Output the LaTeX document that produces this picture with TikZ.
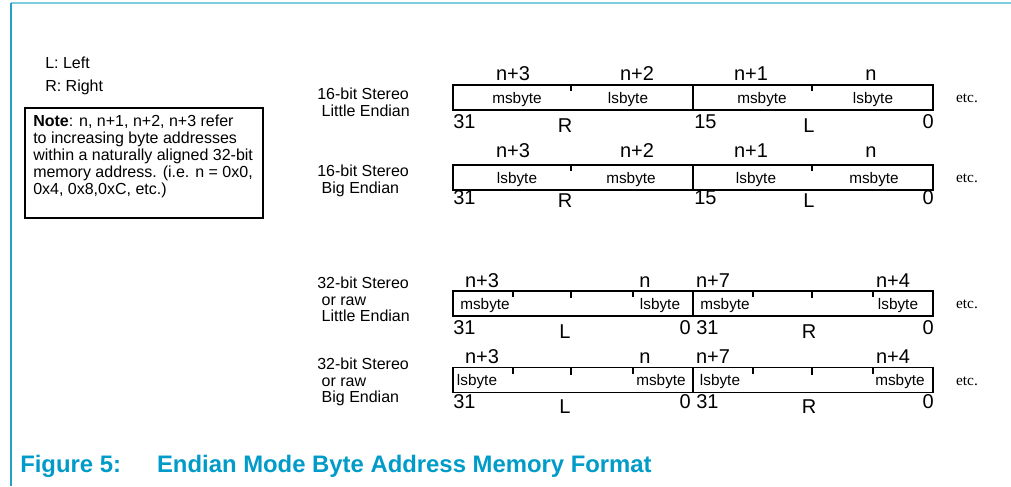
\documentclass[tikz,border=0pt]{standalone}
\usepackage{fontspec}
\setmainfont{Liberation Sans}
\newfontfamily\etcfont{Liberation Serif}
\definecolor{framecyan}{RGB}{125, 205, 222}
\definecolor{frameteal}{RGB}{40, 160, 195}
\definecolor{capblue}{RGB}{0, 155, 200}
\tikzset{
    halfword/.style={draw, rectangle, line width=0.9pt, minimum width=180pt, minimum height=18.75pt, inner sep=0pt},
    bytetick/.style={line width=0.9pt},
    addrlabel/.style={font=\fontsize{15}{18}\selectfont, inner sep=0pt, anchor=base},
    bitlabel/.style={addrlabel},
    bytelabel/.style={font=\fontsize{11.5}{14}\selectfont, inner sep=0pt, anchor=base},
    modelabel/.style={font=\fontsize{12}{12.2}\selectfont, align=left, inner sep=0pt, anchor=north west},
    etclabel/.style={font=\etcfont\fontsize{11.5}{13}\selectfont, inner sep=0pt, anchor=base},
    notebox/.style={draw, rectangle, line width=0.9pt, inner sep=0pt},
    figcaption/.style={font=\fontsize{17.9}{21}\selectfont\bfseries, text=capblue, inner sep=0pt, anchor=base west},
}
\begin{document}
\begin{tikzpicture}[x=0.75pt, y=-0.75pt]
                \useasboundingbox (0,0) rectangle (1011,486);
                % page frame
                \draw[framecyan, line width=1.7pt] (11,3) -- (1011,3);
                \draw[frameteal, line width=1pt] (11,3) -- (11,486);

                % legend and note
                \node[modelabel] (left) at (45,57) {L: Left};
                \node[modelabel] (right) at (45,80) {R: Right};
                \node[notebox, minimum width=178.5pt, minimum height=82.5pt] (note) at (144,163) {};
                \node[modelabel, font=\fontsize{12}{12.75}\selectfont] (notetext) at (33,115)
                      {\textbf{Note}: n, n+1, n+2, n+3 refer\\to increasing byte addresses\\within a naturally aligned 32-bit\\memory address. (i.e. n = 0x0,\\0x4, 0x8,0xC, etc.)};

                % 16-bit stereo, little endian
                \node[modelabel] (le16mode) at (317,88) {16-bit Stereo\\\ Little Endian};
                \node[halfword] (le16l) at (573,97.5) {};
                \node[halfword] (le16r) at (813,97.5) {};
                \draw[bytetick] (le16l.north) ++(-2,0) -- ++(0,7) (le16r.north) ++(-1,0) -- ++(0,7);
                \node[addrlabel] (le16a) at (513,80) {n+3};
                \node[addrlabel] (le16b) at (637,80) {n+2};
                \node[addrlabel] (le16c) at (751,80) {n+1};
                \node[addrlabel] (le16d) at (871,80) {n};
                \node[bytelabel] (le16ms) at (517,103) {msbyte};
                \node[bytelabel] (le16ls) at (628,103) {lsbyte};
                \node[bytelabel] (le16ms2) at (762,103) {msbyte};
                \node[bytelabel] (le16ls2) at (873,103) {lsbyte};
                \node[bitlabel, anchor=base west] (le16hi) at (453,128) {31};
                \node[bitlabel] (le16side) at (565,132) {R};
                \node[bitlabel, anchor=base west] (le16mid) at (694,128) {15};
                \node[bitlabel] (le16side2) at (809,132) {L};
                \node[bitlabel, anchor=base east] (le16lo) at (934,128) {0};
                \node[etclabel] (le16etc) at (967,102) {etc.};

                % 16-bit stereo, big endian
                \node[modelabel] (be16mode) at (317,165) {16-bit Stereo\\\ Big Endian};
                \node[halfword] (be16l) at (573,177.5) {};
                \node[halfword] (be16r) at (813,177.5) {};
                \draw[bytetick] (be16l.north) ++(-2,0) -- ++(0,7) (be16r.north) ++(-1,0) -- ++(0,7);
                \node[addrlabel] (be16a) at (513,157) {n+3};
                \node[addrlabel] (be16b) at (637,157) {n+2};
                \node[addrlabel] (be16c) at (751,157) {n+1};
                \node[addrlabel] (be16d) at (871,157) {n};
                \node[bytelabel] (be16ls) at (517,183) {lsbyte};
                \node[bytelabel] (be16ms) at (631,183) {msbyte};
                \node[bytelabel] (be16ls2) at (756,183) {lsbyte};
                \node[bytelabel] (be16ms2) at (874,183) {msbyte};
                \node[bitlabel, anchor=base west] (be16hi) at (453,204) {31};
                \node[bitlabel] (be16side) at (565,207) {R};
                \node[bitlabel, anchor=base west] (be16mid) at (694,204) {15};
                \node[bitlabel] (be16side2) at (809,207) {L};
                \node[bitlabel, anchor=base east] (be16lo) at (934,204) {0};
                \node[etclabel] (be16etc) at (967,182) {etc.};

                % 32-bit stereo or raw, little endian
                \node[modelabel] (le32mode) at (317,277) {32-bit Stereo\\\ or raw\\\ Little Endian};
                \node[halfword] (le32l) at (573,303.5) {};
                \node[halfword] (le32r) at (813,303.5) {};
                \draw[bytetick] (513,291) -- ++(0,6) (571,291) -- ++(0,7) (633,291) -- ++(0,6);
                \draw[bytetick] (753,291) -- ++(0,6) (812,291) -- ++(0,7) (873,291) -- ++(0,6);
                \node[addrlabel] (le32a) at (482,287) {n+3};
                \node[addrlabel] (le32b) at (645,287) {n};
                \node[addrlabel] (le32c) at (713,287) {n+7};
                \node[addrlabel] (le32d) at (893,287) {n+4};
                \node[bytelabel] (le32ms) at (485,309) {msbyte};
                \node[bytelabel] (le32ls) at (660,309) {lsbyte};
                \node[bytelabel] (le32ms2) at (725,309) {msbyte};
                \node[bytelabel] (le32ls2) at (898,309) {lsbyte};
                \node[bitlabel, anchor=base west] (le32hi) at (453,334) {31};
                \node[bitlabel] (le32side) at (565,338) {L};
                \node[bitlabel, anchor=base east] (le32lo) at (691,334) {0};
                \node[bitlabel, anchor=base west] (le32hi2) at (696,334) {31};
                \node[bitlabel] (le32side2) at (809,338) {R};
                \node[bitlabel, anchor=base east] (le32lo2) at (934,334) {0};
                \node[etclabel] (le32etc) at (967,308) {etc.};

                % 32-bit stereo or raw, big endian
                \node[modelabel] (be32mode) at (317,358) {32-bit Stereo\\\ or raw\\\ Big Endian};
                \node[halfword] (be32l) at (573,380) {};
                \node[halfword] (be32r) at (813,380) {};
                \draw[bytetick] (513,367.5) -- ++(0,6) (571,367.5) -- ++(0,7) (633,367.5) -- ++(0,6);
                \draw[bytetick] (753,367.5) -- ++(0,6) (812,367.5) -- ++(0,7) (873,367.5) -- ++(0,6);
                \node[addrlabel] (be32a) at (482,363) {n+3};
                \node[addrlabel] (be32b) at (645,363) {n};
                \node[addrlabel] (be32c) at (713,363) {n+7};
                \node[addrlabel] (be32d) at (893,363) {n+4};
                \node[bytelabel] (be32ls) at (477,385.5) {lsbyte};
                \node[bytelabel] (be32ms) at (661,385.5) {msbyte};
                \node[bytelabel] (be32ls2) at (720,385.5) {lsbyte};
                \node[bytelabel] (be32ms2) at (900,385.5) {msbyte};
                \node[bitlabel, anchor=base west] (be32hi) at (453,408) {31};
                \node[bitlabel] (be32side) at (565,413) {L};
                \node[bitlabel, anchor=base east] (be32lo) at (691,408) {0};
                \node[bitlabel, anchor=base west] (be32hi2) at (696,408) {31};
                \node[bitlabel] (be32side2) at (809,413) {R};
                \node[bitlabel, anchor=base east] (be32lo2) at (934,408) {0};
                \node[etclabel] (be32etc) at (967,385) {etc.};

                % caption
                \node[figcaption] (caption) at (20,472)
                      {Figure 5:\hspace*{27pt}Endian Mode Byte Address Memory Format};
            \end{tikzpicture}
\end{document}
